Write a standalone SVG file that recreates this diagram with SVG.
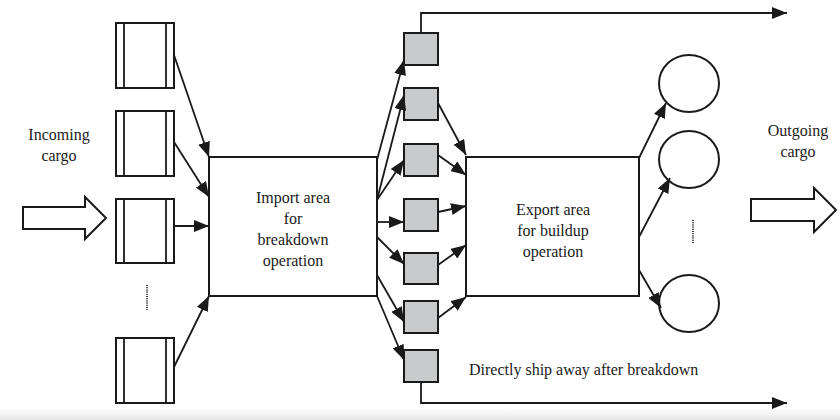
<svg xmlns="http://www.w3.org/2000/svg" width="840" height="420" viewBox="0 0 840 420">
  <defs>
    <style>
      .ln { fill: none; stroke: #1a1a1a; stroke-width: 1.8; }
      .box { fill: #ffffff; stroke: #1a1a1a; stroke-width: 2; }
      .uld { fill: #ffffff; stroke: #1a1a1a; stroke-width: 2; }
      .sq { fill: #c8cacc; stroke: #1a1a1a; stroke-width: 2; }
      .circ { fill: #ffffff; stroke: #1a1a1a; stroke-width: 2; }
      .dots { fill: none; stroke: #333; stroke-width: 2; stroke-dasharray: 1 1.2; }
      .blk { fill: #ffffff; stroke: #1a1a1a; stroke-width: 2; stroke-linejoin: miter; }
      text { font-family: "Liberation Serif", "Times New Roman", serif; font-size: 16px; fill: #1a1a1a; }
      .c { text-anchor: middle; }
    </style>
    <marker id="arr" markerUnits="userSpaceOnUse" markerWidth="16" markerHeight="12" refX="15" refY="6" orient="auto">
      <path d="M0,0 L15,6 L0,12 Z" fill="#1a1a1a"/>
    </marker>
    <linearGradient id="edge" x1="0" y1="0" x2="0" y2="1">
      <stop offset="0" stop-color="#ffffff"/>
      <stop offset="1" stop-color="#e6e6e6"/>
    </linearGradient>
  </defs>

  <rect width="840" height="420" fill="#ffffff"/>
  <rect x="0" y="408" width="840" height="12" fill="url(#edge)"/>

  <!-- incoming block arrow and label -->
  <g id="incoming">
    <path class="blk" d="M23,207 L85,207 L85,197 L106,218 L85,239 L85,229 L23,229 Z"/>
    <text class="c" x="59" y="140">Incoming</text>
    <text class="c" x="59" y="161">cargo</text>
  </g>

  <!-- incoming unit load devices -->
  <g id="uld1"><rect class="uld" x="116" y="23" width="58" height="65"/><path class="ln" d="M124,23 V88 M166,23 V88"/></g>
  <g id="uld2"><rect class="uld" x="116" y="111" width="58" height="65"/><path class="ln" d="M124,111 V176 M166,111 V176"/></g>
  <g id="uld3"><rect class="uld" x="116" y="199" width="58" height="64"/><path class="ln" d="M124,199 V263 M166,199 V263"/></g>
  <g id="uld4"><rect class="uld" x="116" y="338" width="58" height="65"/><path class="ln" d="M124,338 V403 M166,338 V403"/></g>
  <g id="uld-more"><line class="dots" x1="147" y1="285" x2="147" y2="310"/></g>

  <!-- import area -->
  <g id="import">
    <rect class="box" x="209" y="157" width="168" height="139"/>
    <text class="c" x="293" y="203">Import area</text>
    <text class="c" x="293" y="224">for</text>
    <text class="c" x="293" y="245">breakdown</text>
    <text class="c" x="293" y="266">operation</text>
  </g>

  <!-- breakdown staging positions -->
  <g id="pos1"><rect class="sq" x="404" y="33" width="34" height="32"/></g>
  <g id="pos2"><rect class="sq" x="404" y="88" width="34" height="32"/></g>
  <g id="pos3"><rect class="sq" x="404" y="144" width="34" height="32"/></g>
  <g id="pos4"><rect class="sq" x="404" y="199" width="34" height="32"/></g>
  <g id="pos5"><rect class="sq" x="404" y="253" width="34" height="31"/></g>
  <g id="pos6"><rect class="sq" x="404" y="301" width="34" height="32"/></g>
  <g id="pos7"><rect class="sq" x="404" y="350" width="34" height="32"/></g>

  <!-- export area -->
  <g id="export">
    <rect class="box" x="466" y="157" width="173" height="139"/>
    <text class="c" x="553" y="215">Export area</text>
    <text class="c" x="553" y="236">for buildup</text>
    <text class="c" x="553" y="257">operation</text>
  </g>

  <!-- outgoing unit loads -->
  <g id="out1"><ellipse class="circ" cx="689" cy="83.5" rx="30" ry="28.5"/></g>
  <g id="out2"><ellipse class="circ" cx="689" cy="159.5" rx="30" ry="28.5"/></g>
  <g id="out3"><ellipse class="circ" cx="689" cy="303.5" rx="30" ry="28.5"/></g>
  <g id="out-more"><line class="dots" x1="693" y1="220" x2="693" y2="243"/></g>

  <!-- outgoing block arrow and label -->
  <g id="outgoing">
    <path class="blk" d="M751,199 L814,199 L814,188 L836,210 L814,232 L814,221 L751,221 Z"/>
    <text class="c" x="798" y="136">Outgoing</text>
    <text class="c" x="798" y="157">cargo</text>
  </g>

  <g id="direct-label">
    <text x="469" y="375">Directly ship away after breakdown</text>
  </g>

  <!-- flows -->
  <g id="connectors">
    <line class="ln" x1="174" y1="55" x2="209" y2="157" marker-end="url(#arr)"/>
    <line class="ln" x1="174" y1="142" x2="209" y2="197" marker-end="url(#arr)"/>
    <line class="ln" x1="174" y1="226" x2="209" y2="226" marker-end="url(#arr)"/>
    <line class="ln" x1="174" y1="367" x2="209" y2="296" marker-end="url(#arr)"/>

    <line class="ln" x1="377" y1="160" x2="404" y2="60" marker-end="url(#arr)"/>
    <line class="ln" x1="377" y1="200" x2="404" y2="95" marker-end="url(#arr)"/>
    <line class="ln" x1="377" y1="200" x2="404" y2="160" marker-end="url(#arr)"/>
    <line class="ln" x1="377" y1="222" x2="404" y2="222" marker-end="url(#arr)"/>
    <line class="ln" x1="377" y1="237" x2="404" y2="264" marker-end="url(#arr)"/>
    <line class="ln" x1="377" y1="275" x2="404" y2="322" marker-end="url(#arr)"/>
    <line class="ln" x1="377" y1="296" x2="404" y2="360" marker-end="url(#arr)"/>

    <line class="ln" x1="438" y1="103" x2="466" y2="155" marker-end="url(#arr)"/>
    <line class="ln" x1="438" y1="155" x2="466" y2="175" marker-end="url(#arr)"/>
    <line class="ln" x1="438" y1="212" x2="466" y2="206" marker-end="url(#arr)"/>
    <line class="ln" x1="438" y1="265" x2="466" y2="245" marker-end="url(#arr)"/>
    <line class="ln" x1="438" y1="318" x2="466" y2="297" marker-end="url(#arr)"/>

    <line class="ln" x1="639" y1="158" x2="666" y2="103" marker-end="url(#arr)"/>
    <line class="ln" x1="639" y1="237" x2="670" y2="178" marker-end="url(#arr)"/>
    <line class="ln" x1="639" y1="270" x2="661" y2="308" marker-end="url(#arr)"/>

    <polyline class="ln" points="421,33 421,13 787,13" marker-end="url(#arr)"/>
    <polyline class="ln" points="421,382 421,403 787,403" marker-end="url(#arr)"/>
  </g>
</svg>
